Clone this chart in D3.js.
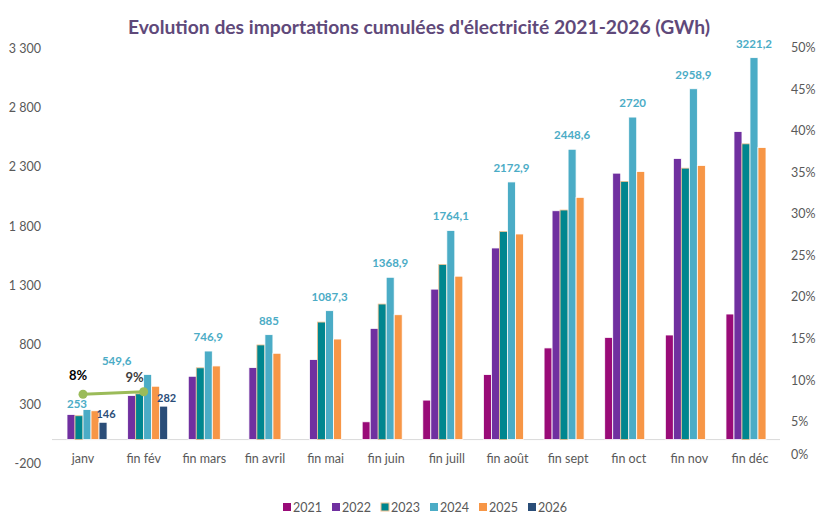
<!DOCTYPE html>
<html>
<head>
<meta charset="utf-8">
<script src="https://cdn.jsdelivr.net/npm/d3@7"></script>
<style>
  body { margin: 0; background: #fff; }
  svg { display: block; font-family: Lato, "Open Sans", sans-serif; }
</style>
</head>
<body>
<div id="chart"></div>
<script>
// Cumulative electricity imports, GWh
const months = ['janv', 'fin fév', 'fin mars', 'fin avril', 'fin mai', 'fin juin',
                'fin juill', 'fin août', 'fin sept', 'fin oct', 'fin nov', 'fin déc'];
const years = ['2021', '2022', '2023', '2024', '2025', '2026'];

const v2021 = [null, null, null, null, null, 150, 333, 548, 773, 862, 882, 1059];
const v2022 = [212, 372, 534, 607, 675, 938, 1269, 1616, 1930, 2247, 2371, 2598];
const v2023 = [201, 386, 605, 798, 991, 1143, 1476, 1754, 1936, 2177, 2289, 2494];
const v2024 = [253, 549.6, 746.9, 885, 1087.3, 1368.9, 1764.1, 2172.9, 2448.6, 2720, 2958.9, 3221.2];
const v2025 = [243, 450, 621, 728, 848, 1053, 1378, 1734, 2043, 2261, 2312, 2463];
const v2026 = [146, 282, null, null, null, null, null, null, null, null, null, null];

// share line (right axis)
const shareMonths = ['janv', 'fin fév'];
const shareVals = [0.083, 0.086];
const shareLabels = ['8%', '9%'];

const leftTicks = [-200, 300, 800, 1300, 1800, 2300, 2800, 3300];
const rightTicks = [0, 0.05, 0.1, 0.15, 0.2, 0.25, 0.3, 0.35, 0.4, 0.45, 0.5];

const series = [v2021, v2022, v2023, v2024, v2025, v2026];
const COLORS = {
  '2021': '#990b78',
  '2022': '#7030a0',
  '2023': '#00868f',
  '2024': '#4bacc6',
  '2025': '#f79646',
  '2026': '#2a4d78'
};

const W = 817, H = 514;
const svg = d3.select('#chart').append('svg')
  .attr('width', W).attr('height', H);

const x0 = d3.scaleBand().domain(months).range([52.7, 780.3])
  .paddingInner(0.208).paddingOuter(0.104);
const x1 = d3.scaleBand().domain(years).range([0, x0.bandwidth()]);
const y = d3.scaleLinear().domain([-200, 3300]).range([463.3, 48.3]);
const yR = d3.scaleLinear().domain([0, 0.5]).range([463.3, 47.5]);

// title
svg.append('text')
  .attr('x', 419).attr('y', 34)
  .attr('text-anchor', 'middle')
  .attr('font-size', 19.3).attr('font-weight', 700)
  .attr('fill', '#5f497a')
  .text("Evolution des importations cumulées d'électricité 2021-2026 (GWh)");

// left axis
const yAxis = svg.append('g')
  .attr('transform', 'translate(41,0)')
  .call(d3.axisLeft(y).tickValues(leftTicks).tickSize(0).tickPadding(0)
    .tickFormat(d => d3.format(',')(d).replace(/,/g, ' ').replace('\u2212', '-')));
yAxis.select('.domain').remove();
yAxis.selectAll('text').attr('font-size', 12.5).attr('fill', '#595959')
  .attr('font-family', 'Lato, sans-serif');

// right axis
const yAxisR = svg.append('g')
  .attr('transform', 'translate(791,0)')
  .call(d3.axisRight(yR).tickValues(rightTicks).tickSize(0).tickPadding(0)
    .tickFormat(d3.format('.0%')));
yAxisR.select('.domain').remove();
yAxisR.selectAll('text').attr('font-size', 12.5).attr('fill', '#595959')
  .attr('font-family', 'Lato, sans-serif')
  .attr('dy', d => d === 0 ? '-0.4em' : '0.32em');

// category axis
svg.append('line')
  .attr('x1', 52).attr('x2', 780)
  .attr('y1', y(0)).attr('y2', y(0))
  .attr('stroke', '#d9d9d9').attr('stroke-width', 1);

svg.append('g').selectAll('text')
  .data(months).join('text')
  .attr('x', d => x0(d) + x0.bandwidth() / 2)
  .attr('y', 463)
  .attr('text-anchor', 'middle')
  .attr('font-size', 12.5).attr('fill', '#595959')
  .text(d => d);

// bars
const groups = svg.append('g').selectAll('g')
  .data(months).join('g')
  .attr('transform', d => `translate(${x0(d)},0)`);

groups.selectAll('rect')
  .data((m, i) => years.map((yr, k) => ({ yr, v: series[k][i] })).filter(d => d.v != null))
  .join('rect')
  .attr('x', d => x1(d.yr))
  .attr('width', x1.bandwidth())
  .attr('y', d => y(d.v))
  .attr('height', d => y(0) - y(d.v))
  .attr('fill', d => COLORS[d.yr])
  .attr('stroke', d => d.yr === '2023' ? '#f0c090' : '#ffffff')
  .attr('stroke-width', 0.8);

// data labels for 2024 (first two nudged away from the line)
const labelDx = { 'janv': -10, 'fin fév': -31 };
const labelDy = { 'janv': -2, 'fin fév': -9 };
svg.append('g').selectAll('text')
  .data(months.map((m, i) => ({ m, v: v2024[i] })))
  .join('text')
  .attr('x', d => x0(d.m) + x1('2024') + x1.bandwidth() / 2 + (labelDx[d.m] || 0))
  .attr('y', d => y(d.v) + (labelDy[d.m] != null ? labelDy[d.m] : -10))
  .attr('text-anchor', 'middle')
  .attr('font-size', 11.5).attr('font-weight', 700)
  .attr('fill', '#4bacc6')
  .text(d => String(d.v).replace('.', ','));

// data labels for 2026
svg.append('g').selectAll('text')
  .data(months.map((m, i) => ({ m, v: v2026[i] })).filter(d => d.v != null))
  .join('text')
  .attr('x', d => x0(d.m) + x1('2026') + x1.bandwidth() / 2 + 3)
  .attr('y', d => y(d.v) - 4)
  .attr('text-anchor', 'middle')
  .attr('font-size', 11).attr('font-weight', 700)
  .attr('fill', '#2a4d78')
  .text(d => d.v);

// share line
const sharePts = shareMonths.map((m, i) => ({ m, v: shareVals[i], label: shareLabels[i] }));
const line = d3.line()
  .x(d => x0(d.m) + x0.bandwidth() / 2)
  .y(d => yR(d.v));
svg.append('path')
  .attr('d', line(sharePts))
  .attr('fill', 'none')
  .attr('stroke', '#9bbb59')
  .attr('stroke-width', 3);
svg.append('g').selectAll('circle')
  .data(sharePts).join('circle')
  .attr('cx', d => x0(d.m) + x0.bandwidth() / 2)
  .attr('cy', d => yR(d.v))
  .attr('r', 4.5)
  .attr('fill', '#9bbb59');
const shareDx = [-5, -9], shareDy = [-14, -10];
svg.append('g').selectAll('text')
  .data(sharePts).join('text')
  .attr('x', (d, i) => x0(d.m) + x0.bandwidth() / 2 + shareDx[i])
  .attr('y', (d, i) => yR(d.v) + shareDy[i])
  .attr('text-anchor', 'middle')
  .attr('font-size', 13).attr('font-weight', 700)
  .attr('fill', (d, i) => i === 0 ? '#000000' : '#404040')
  .text(d => d.label);

// legend
const legend = svg.append('g').selectAll('g')
  .data(years).join('g')
  .attr('transform', (d, i) => `translate(${283 + i * 49},503)`);
legend.append('rect')
  .attr('width', 8).attr('height', 8)
  .attr('fill', d => COLORS[d])
  .attr('stroke', d => d === '2023' ? '#f0c090' : 'none')
  .attr('stroke-width', 1);
legend.append('text')
  .attr('x', 10).attr('y', 8.5)
  .attr('font-size', 12.5).attr('fill', '#595959')
  .text(d => d);
</script>
</body>
</html>
